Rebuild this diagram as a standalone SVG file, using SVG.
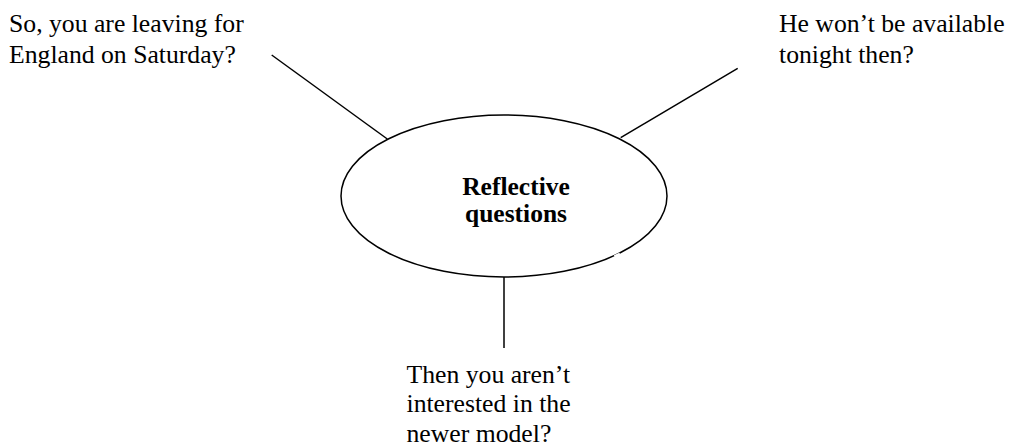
<svg xmlns="http://www.w3.org/2000/svg" width="1013" height="446" viewBox="0 0 1013 446">
<style>
.t{font-family:"Liberation Serif","Times New Roman",serif;font-size:25.7px;fill:#000}
.b{font-family:"Liberation Serif","Times New Roman",serif;font-size:25.5px;font-weight:bold;fill:#000;text-anchor:middle}
.ln{stroke:#000;stroke-width:1.5;fill:none}
</style>
<rect width="1013" height="446" fill="#fff"/>
<g id="connectors">
<line class="ln" x1="271.7" y1="55" x2="387.3" y2="139"/>
<line class="ln" x1="737.7" y1="68.3" x2="620.7" y2="137.7"/>
<line class="ln" x1="504" y1="277" x2="504" y2="348"/>
</g>
<g id="center">
<ellipse class="ln" cx="504" cy="196" rx="163" ry="81"/>
<line x1="614.5" y1="256.5" x2="620" y2="254" stroke="#fff" stroke-width="3"/>
<text class="b" x="516" y="195">Reflective</text>
<text class="b" x="516" y="221.5">questions</text>
</g>
<g id="q1">
<text class="t" x="9" y="31.5">So, you are leaving for</text>
<text class="t" x="9" y="63">England on Saturday?</text>
</g>
<g id="q2">
<text class="t" x="779" y="31.5">He won’t be available</text>
<text class="t" x="779" y="63">tonight then?</text>
</g>
<g id="q3">
<text class="t" x="406.5" y="382.5">Then you aren’t</text>
<text class="t" x="406.5" y="412">interested in the</text>
<text class="t" x="406.5" y="441.5">newer model?</text>
</g>
</svg>
